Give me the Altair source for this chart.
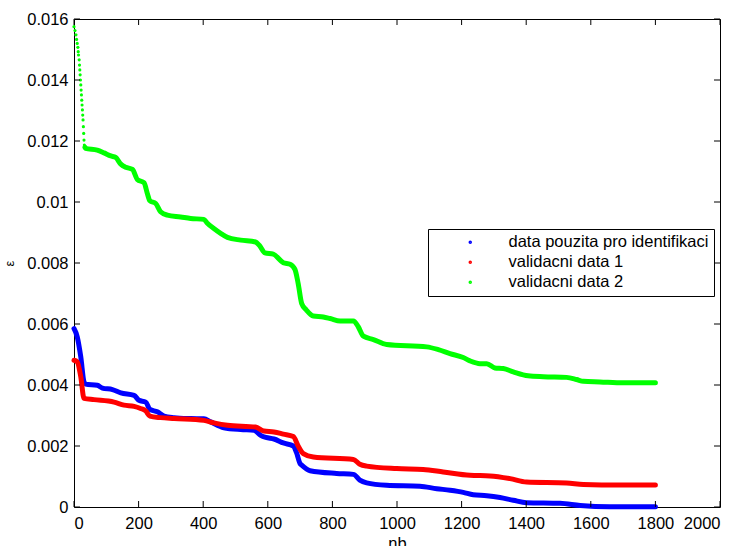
import altair as alt
import pandas as pd

# Error curves versus the number of model terms (nb)
SERIES = ["data pouzita pro identifikaci", "validacni data 1", "validacni data 2"]
COLORS = ["#0000ff", "#ff0000", "#00ff00"]

ident_nb = [0, 10, 21, 31, 36, 72, 88, 119, 145, 186, 201, 222, 235, 258, 279, 310, 361, 402,
            423, 464, 516, 557, 578, 594, 619, 648, 679, 689, 700, 705, 731, 813, 865, 885,
            906, 968, 1071, 1123, 1164, 1205, 1236, 1278, 1319, 1360, 1401, 1505, 1567, 1659, 1800]
ident_eps = [0.00585, 0.00558, 0.00492, 0.00410, 0.00403, 0.00399, 0.00390, 0.00385, 0.00374,
             0.00366, 0.00350, 0.00344, 0.00320, 0.00312, 0.00298, 0.00293, 0.00290, 0.00289,
             0.00279, 0.00260, 0.00254, 0.00252, 0.00235, 0.00228, 0.00223, 0.00210, 0.00200,
             0.00178, 0.00142, 0.00137, 0.00119, 0.00110, 0.00107, 0.00088, 0.00079, 0.00071,
             0.00068, 0.00060, 0.00055, 0.00048, 0.00040, 0.00037, 0.00031, 0.00022, 0.00014,
             0.00012, 0.00005, 0.00001, 0.00001]

val1_nb = [0, 10, 21, 31, 62, 124, 155, 186, 206, 222, 235, 268, 310, 402, 433, 475, 562, 588,
           619, 648, 679, 694, 710, 741, 865, 885, 906, 999, 1081, 1143, 1226, 1288, 1350,
           1401, 1525, 1577, 1690, 1800]
val1_eps = [0.00481, 0.00476, 0.00427, 0.00356, 0.00352, 0.00344, 0.00334, 0.00330, 0.00323,
            0.00315, 0.00298, 0.00293, 0.00290, 0.00284, 0.00276, 0.00268, 0.00262, 0.00249,
            0.00246, 0.00239, 0.00231, 0.00200, 0.00175, 0.00164, 0.00156, 0.00140, 0.00134,
            0.00126, 0.00123, 0.00115, 0.00104, 0.00102, 0.00093, 0.00082, 0.00079, 0.00074,
            0.00072, 0.00072]

# validation set 2: first terms drawn as separate dots, the rest as a dense band
val2_head_nb = [0, 3, 6, 8, 10, 12, 13, 14, 16, 17, 18, 19, 20, 21, 22, 23, 24, 25, 26, 27,
                28, 29, 30, 31, 32, 34]
val2_head_eps = [0.01575, 0.01562, 0.01548, 0.01533, 0.01520, 0.01507, 0.01493, 0.01482,
                 0.01466, 0.01449, 0.01433, 0.01417, 0.01400, 0.01384, 0.01367, 0.01351,
                 0.01334, 0.01318, 0.01302, 0.01285, 0.01269, 0.01247, 0.01225, 0.01203,
                 0.01187, 0.01179]
val2_nb = [34, 36, 72, 93, 114, 129, 145, 160, 181, 196, 217, 227, 235, 253, 268, 289, 330,
           361, 402, 413, 433, 454, 475, 516, 562, 573, 591, 617, 648, 669, 684, 694, 705,
           720, 741, 772, 793, 824, 865, 880, 896, 927, 968, 1092, 1128, 1164, 1205, 1226,
           1257, 1278, 1303, 1329, 1360, 1406, 1453, 1525, 1556, 1577, 1628, 1701, 1800]
val2_eps = [0.01179, 0.01176, 0.01170, 0.01161, 0.01151, 0.01146, 0.01124, 0.01114, 0.01107,
            0.01074, 0.01063, 0.01028, 0.01004, 0.00995, 0.00968, 0.00957, 0.00951, 0.00946,
            0.00943, 0.00930, 0.00913, 0.00897, 0.00884, 0.00875, 0.00869, 0.00859, 0.00833,
            0.00829, 0.00801, 0.00796, 0.00779, 0.00733, 0.00667, 0.00645, 0.00626, 0.00623,
            0.00618, 0.00610, 0.00610, 0.00591, 0.00560, 0.00549, 0.00533, 0.00525, 0.00516,
            0.00503, 0.00490, 0.00479, 0.00470, 0.00470, 0.00456, 0.00454, 0.00443, 0.00430,
            0.00427, 0.00425, 0.00418, 0.00412, 0.00410, 0.00407, 0.00407]

x_ticks = [0, 200, 400, 600, 800, 1000, 1200, 1400, 1600, 1800, 2000]
y_ticks = [0, 0.002, 0.004, 0.006, 0.008, 0.010, 0.012, 0.014, 0.016]

W, H = 646, 488
FONT = "Liberation Sans"
TICK = 6

lines = pd.concat([
    pd.DataFrame({"nb": ident_nb, "eps": ident_eps, "series": SERIES[0]}),
    pd.DataFrame({"nb": val1_nb, "eps": val1_eps, "series": SERIES[1]}),
    pd.DataFrame({"nb": val2_nb, "eps": val2_eps, "series": SERIES[2]}),
])
head = pd.DataFrame({"nb": val2_head_nb, "eps": val2_head_eps})
xt = pd.DataFrame({"t": x_ticks})
yt = pd.DataFrame({"t": y_ticks})

x_scale = alt.Scale(domain=[0, 2000], nice=False, zero=False)
y_scale = alt.Scale(domain=[0, 0.016], nice=False, zero=False)

x_axis = alt.Axis(values=x_ticks, format="d", ticks=False, domain=False, grid=False,
                  labelFont=FONT, labelFontSize=16.5, labelColor="black", labelPadding=8,
                  title="nb", titleFont=FONT, titleFontSize=16.5, titleFontWeight="normal",
                  titleColor="black", titlePadding=4)
y_axis = alt.Axis(values=y_ticks, format="~g", ticks=False, domain=False, grid=False,
                  labelFont=FONT, labelFontSize=16.5, labelColor="black", labelPadding=6,
                  title="ε", titleFont=FONT, titleFontSize=13, titleFontWeight="normal",
                  titleColor="black", titlePadding=10)

legend = alt.Legend(title=None, orient="none", legendX=354, legendY=210,
                    strokeColor="black", fillColor="white", padding=5, cornerRadius=0,
                    symbolType="circle", symbolSize=4, symbolStrokeWidth=1.5,
                    symbolOffset=29, labelOffset=30, rowPadding=3,
                    labelFont=FONT, labelFontSize=16.5, labelColor="black", labelLimit=400)

curves = alt.Chart(lines).mark_line(strokeWidth=5, strokeCap="round", strokeJoin="round",
                                    interpolate="monotone").encode(
    x=alt.X("nb:Q", scale=x_scale, axis=x_axis),
    y=alt.Y("eps:Q", scale=y_scale, axis=y_axis),
    color=alt.Color("series:N", scale=alt.Scale(domain=SERIES, range=COLORS),
                    sort=SERIES, legend=legend),
    order=alt.Order("nb:Q"),
)

dots = alt.Chart(head).mark_circle(size=10, color="#00ff00", opacity=1).encode(
    x=alt.X("nb:Q", scale=x_scale),
    y=alt.Y("eps:Q", scale=y_scale),
)

# inward ticks on all four sides of the box
tick_style = dict(color="black", strokeWidth=1)
xb = alt.Chart(xt).mark_rule(**tick_style).encode(
    x=alt.X("t:Q", scale=x_scale), y=alt.value(H), y2=alt.value(H - TICK))
xtp = alt.Chart(xt).mark_rule(**tick_style).encode(
    x=alt.X("t:Q", scale=x_scale), y=alt.value(0), y2=alt.value(TICK))
yl = alt.Chart(yt).mark_rule(**tick_style).encode(
    y=alt.Y("t:Q", scale=y_scale), x=alt.value(0), x2=alt.value(TICK))
yr = alt.Chart(yt).mark_rule(**tick_style).encode(
    y=alt.Y("t:Q", scale=y_scale), x=alt.value(W), x2=alt.value(W - TICK))

chart = alt.layer(curves, dots, xb, xtp, yl, yr).properties(
    width=W, height=H,
    autosize=alt.AutoSizeParams(type="none"),
    padding={"left": 74, "top": 19, "right": 19, "bottom": 39},
    background="white",
).configure_view(stroke="black", strokeWidth=1)

chart.save("out.html", embed_options={"renderer": "svg", "actions": False})
